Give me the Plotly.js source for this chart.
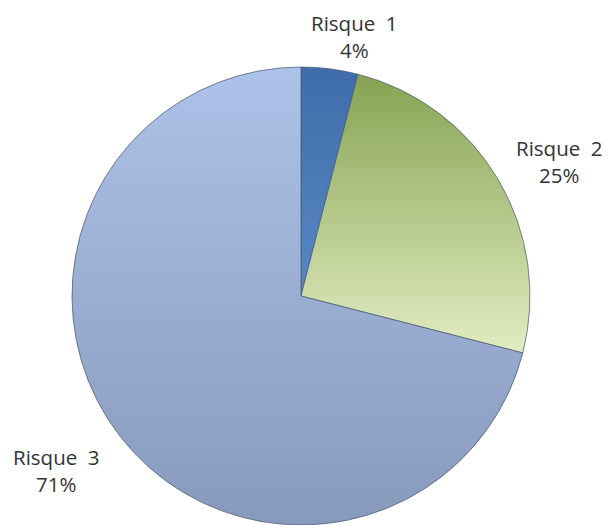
<!DOCTYPE html>
<html>
<head>
<meta charset="utf-8">
<script src="https://cdn.plot.ly/plotly-3.0.1.min.js"></script>
<style>html,body{margin:0;padding:0;background:#fff;}#chart{width:608px;height:525px;}</style>
</head>
<body>
<div id="chart"></div>
<script>
const labels = ['Risque 1', 'Risque 2', 'Risque 3'];
const values = [4, 25, 71];
const percentText = ['4%', '25%', '71%'];
const colors = ['#4a78b4', '#b9cd8e', '#9db1d7'];
// vertical gradient stops per slice [top, bottom]
const gradStops = [['#3f6dab', '#5888c4'], ['#86a352', '#e2ecc2'], ['#adc2e8', '#889abc']];
// label centers in pixels (layout positions)
const labelPx = [[354, 36], [559, 162], [56, 470]];

const W = 608, H = 525;
const cx = 301, cy = 296, r = 229;

const trace = {
  type: 'pie',
  labels: labels,
  values: values,
  sort: false,
  direction: 'clockwise',
  rotation: 0,
  textinfo: 'none',
  hoverinfo: 'none',
  showlegend: false,
  marker: {colors: colors, line: {color: 'rgba(70,85,110,0.7)', width: 1}},
  domain: {x: [(cx - r) / W, (cx + r) / W], y: [(H - cy - r) / H, (H - cy + r) / H]}
};

const annotations = labels.map((l, i) => ({
  x: labelPx[i][0] / W,
  y: 1 - labelPx[i][1] / H,
  xref: 'paper', yref: 'paper',
  xanchor: 'center', yanchor: 'middle',
  text: l.replace(' ', '&nbsp;&nbsp;') + '<br>' + percentText[i],
  showarrow: false,
  align: 'center',
  font: {family: '"Open Sans", sans-serif', size: 20.5, color: '#333333'}
}));

const layout = {
  width: W, height: H,
  margin: {l: 0, r: 0, t: 0, b: 0},
  paper_bgcolor: '#ffffff',
  plot_bgcolor: '#ffffff',
  annotations: annotations
};

Plotly.newPlot('chart', [trace], layout, {displayModeBar: false, staticPlot: true}).then(function (gd) {
  const svg = gd.querySelector('svg.main-svg');
  const ns = 'http://www.w3.org/2000/svg';
  let defs = svg.querySelector('defs');
  if (!defs) { defs = document.createElementNS(ns, 'defs'); svg.insertBefore(defs, svg.firstChild); }
  gradStops.forEach(function (s, i) {
    const g = document.createElementNS(ns, 'linearGradient');
    g.setAttribute('id', 'sliceGrad' + i);
    g.setAttribute('x1', 0); g.setAttribute('y1', 0);
    g.setAttribute('x2', 0); g.setAttribute('y2', 1);
    [[0, s[0]], [1, s[1]]].forEach(function (st) {
      const stop = document.createElementNS(ns, 'stop');
      stop.setAttribute('offset', st[0]);
      stop.setAttribute('stop-color', st[1]);
      g.appendChild(stop);
    });
    defs.appendChild(g);
  });
  const paths = gd.querySelectorAll('g.slice path.surface');
  paths.forEach(function (p, i) { p.style.fill = 'url(#sliceGrad' + i + ')'; });
});
</script>
</body>
</html>
